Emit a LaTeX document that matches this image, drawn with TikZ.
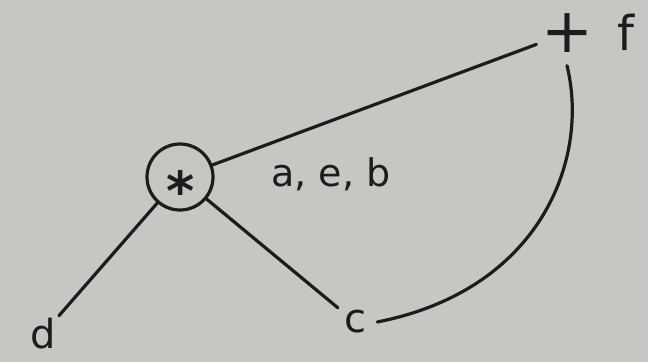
\documentclass[tikz,border=0pt]{standalone}
\usepackage{fontspec}
\setmainfont{DejaVu Sans}
\definecolor{paper}{RGB}{198,198,194}
\definecolor{ink}{RGB}{28,28,28}
\begin{document}
\begin{tikzpicture}[x=1pt,y=-1pt,
  ink line/.style={draw=ink,line width=3.2pt,line cap=round},
  lbl/.style={text=ink,font=\fontsize{40}{44}\selectfont,inner sep=0pt},
  opnode/.style={text=ink,inner sep=0pt,minimum size=64pt,circle}]
\fill[paper] (0,0) rectangle (648,362);
\useasboundingbox (0,0) rectangle (648,362);
\node[opnode,font=\fontsize{62}{66}\selectfont] (plus) at (567,33) {+};
\node[lbl,font=\fontsize{48}{52}\selectfont] (f) at (626,32) {f};
\node[circle,draw=ink,line width=3.2pt,minimum width=66pt,inner sep=0pt] (star) at (180,177) {};
\node[text=ink,font=\bfseries\fontsize{54}{58}\selectfont] (starsym) at (181,190) {*};
\node[lbl,font=\fontsize{38}{42}\selectfont] (aeb) at (331,174) {a, e, b};
\node[lbl,minimum size=48pt,circle] (d) at (43,334) {d};
\node[lbl,minimum size=44pt,circle] (c) at (355,322) {c};
\draw[ink line] (star) -- (plus);
\draw[ink line] (star) -- (d);
\draw[ink line] (star) -- (c);
\draw[ink line] (c.east) .. controls (540,290) and (590,160) .. (plus.south);
\end{tikzpicture}
\end{document}
